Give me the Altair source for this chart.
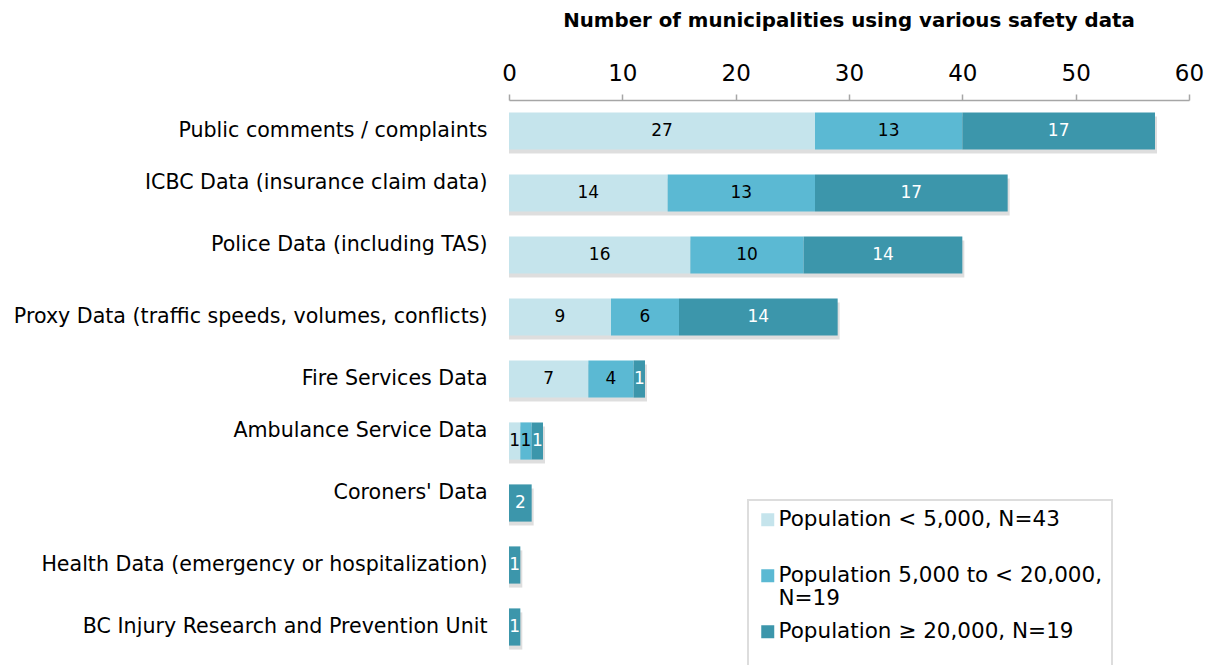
import altair as alt
import pandas as pd

# Safety data sources, top to bottom
sources = [
    "Public comments / complaints",
    "ICBC Data (insurance claim data)",
    "Police Data (including TAS)",
    "Proxy Data (traffic speeds, volumes, conflicts)",
    "Fire Services Data",
    "Ambulance Service Data",
    "Coroners' Data",
    "Health Data (emergency or hospitalization)",
    "BC Injury Research and Prevention Unit",
]
# category labels that sit a little above their bar
raised = [
    "ICBC Data (insurance claim data)",
    "Police Data (including TAS)",
    "Ambulance Service Data",
    "Coroners' Data",
]

# Population groups (legend entries)
groups = [
    "Population < 5,000, N=43",
    "Population 5,000 to < 20,000, N=19",
    "Population \u2265 20,000, N=19",
]
colors = ["#C5E4EC", "#5BB9D3", "#3C96AB"]

# Number of municipalities per source, per group
small = [27, 14, 16, 9, 7, 1, 0, 0, 0]
medium = [13, 13, 10, 6, 4, 1, 0, 0, 0]
large = [17, 17, 14, 14, 1, 1, 2, 1, 1]

rows = []
for i, s in enumerate(sources):
    for g, vals in zip(groups, [small, medium, large]):
        rows.append({"source": s, "group": g, "order": groups.index(g), "count": vals[i]})
df = pd.DataFrame(rows)

FONT = "DejaVu Sans"

raised_js = "[" + ", ".join("'" + r.replace("'", "\\'") + "'" for r in raised) + "]"

y_enc = alt.Y(
    "source:N",
    sort=sources,
    title=None,
    scale=alt.Scale(paddingInner=0.4, paddingOuter=0.2),
    axis=alt.Axis(
        domain=False,
        ticks=False,
        labelPadding=22,
        labelFontSize=20.6,
        labelColor="#000000",
        labelFont=FONT,
        labelLimit=700,
        labelBaseline=alt.condition(
            f"indexof({raised_js}, datum.value) >= 0",
            alt.value("bottom"),
            alt.value("middle"),
        ),
    ),
)

base = alt.Chart(df).transform_filter("datum.count > 0")

# soft drop shadow under each full bar
shadow = (
    base.mark_bar(color="#000000", opacity=0.13, xOffset=2, yOffset=4)
    .encode(
        x=alt.X("sum(count):Q"),
        y=y_enc,
    )
)

# legend labels: the middle one wraps; blank lines even out the spacing
legend_expr = (
    "datum.label == 'Population 5,000 to < 20,000, N=19' "
    "? ['Population 5,000 to < 20,000,', 'N=19'] : [datum.label, ' ']"
)

bars = (
    base.mark_bar()
    .encode(
        x=alt.X(
            "sum(count):Q",
            stack="zero",
            title=None,
            scale=alt.Scale(domain=[0, 60]),
            axis=alt.Axis(
                orient="top",
                values=[0, 10, 20, 30, 40, 50, 60],
                grid=False,
                domainColor="#A6A6A6",
                domainWidth=1.5,
                tickColor="#A6A6A6",
                tickWidth=1.5,
                tickSize=6,
                labelFontSize=23,
                labelFont=FONT,
                labelColor="#000000",
                labelPadding=9,
                labelFlush=False,
                labelOverlap=False,
            ),
        ),
        y=y_enc,
        color=alt.Color(
            "group:N",
            sort=groups,
            scale=alt.Scale(domain=groups, range=colors),
            legend=alt.Legend(
                title=None,
                orient="none",
                legendX=239,
                legendY=400,
                direction="vertical",
                symbolType="square",
                symbolSize=169,
                symbolStrokeWidth=0,
                symbolOpacity=1,
                labelFontSize=21.5,
                labelFont=FONT,
                labelColor="#000000",
                labelLimit=500,
                labelOffset=0,
                labelExpr=legend_expr,
                rowPadding=10,
                strokeColor="#DDDDDD",
                padding=9,
                fillColor="#FFFFFF",
            ),
        ),
        order=alt.Order("order:Q"),
    )
)

labels = (
    base.transform_stack(
        stack="count",
        groupby=["source"],
        as_=["x0", "x1"],
        sort=[alt.SortField("order", order="ascending")],
    )
    .transform_calculate(mid="(datum.x0 + datum.x1) / 2")
    .mark_text(fontSize=17, font=FONT)
    .encode(
        x=alt.X("mid:Q"),
        y=alt.Y("source:N", sort=sources),
        text=alt.Text("count:Q"),
        color=alt.condition(
            f"datum.group == '{groups[2]}'", alt.value("#FFFFFF"), alt.value("#000000")
        ),
    )
)

chart = (
    alt.layer(shadow, bars, labels)
    .properties(
        width=680,
        height=558,
        title=alt.TitleParams(
            "Number of municipalities using various safety data",
            fontSize=19.8,
            fontWeight="bold",
            font=FONT,
            color="#000000",
            anchor="middle",
            offset=31,
        ),
        autosize=alt.AutoSizeParams(type="none"),
        padding={"left": 509, "top": 100, "right": 28, "bottom": 7},
    )
    .configure_view(stroke=None)
    .configure_legend(strokeWidth=2)
)

chart.save("out.html", embed_options={"renderer": "svg", "actions": False})
